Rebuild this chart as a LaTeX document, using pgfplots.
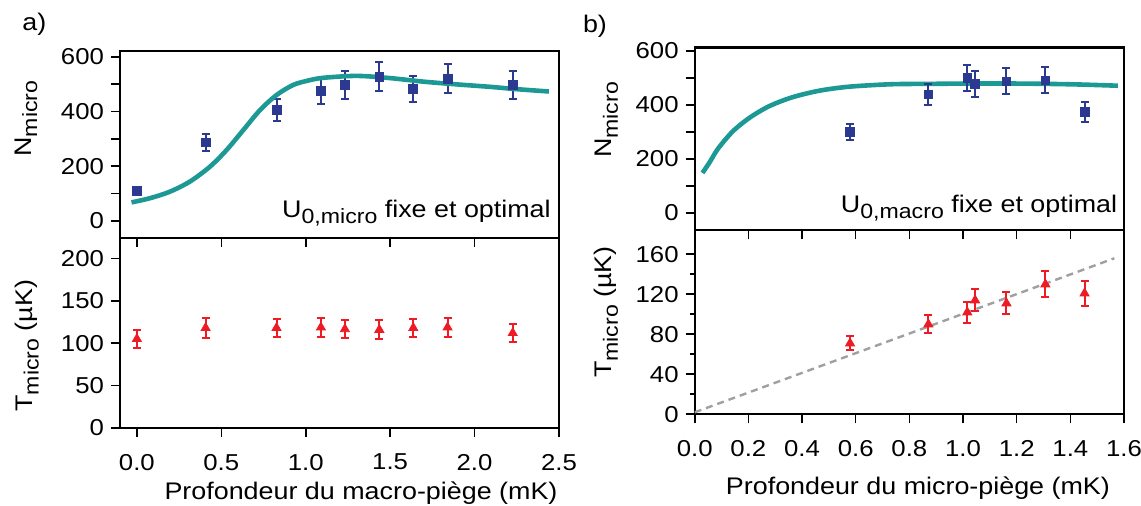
\documentclass[border=0pt]{standalone}
\usepackage{fontspec}
\setmainfont{Liberation Sans}[FakeStretch=1.12]
\usepackage{pgfplots}
\pgfplotsset{compat=1.18}
\definecolor{fitteal}{RGB}{28,153,148}
\definecolor{ptblue}{RGB}{43,57,144}
\definecolor{ptred}{RGB}{237,28,36}
\definecolor{dashgray}{RGB}{160,160,160}
\newcommand{\sbs}[1]{\raisebox{-0.25em}{\scalebox{0.86}{#1}}}
\pgfplotsset{
  panel/.style={
    scale only axis,
    axis line style={line width=1.2pt},
    tick align=outside,
    xtick pos=bottom, ytick pos=left,
    major tick length=4.5pt, minor tick length=4.5pt,
    every tick/.append style={black, line width=0.8pt},
    tick label style={font=\fontsize{11.5}{13}\selectfont},
    label style={font=\fontsize{12}{14}\selectfont},
    /pgf/number format/assume math mode=true,
  },
  bluepts/.style={only marks, mark=square*, mark size=2.2pt, color=ptblue,
    error bars/.cd, y dir=both, y explicit,
    error bar style={line width=1pt, solid},
    error mark options={rotate=90, mark size=2pt, line width=1pt}},
  redpts/.style={only marks, mark=triangle*, mark size=2.6pt, color=ptred,
    error bars/.cd, y dir=both, y explicit,
    error bar style={line width=1pt, solid},
    error mark options={rotate=90, mark size=2pt, line width=1pt}},
}
\begin{document}
\begin{tikzpicture}
\useasboundingbox (0,0) rectangle (570.5pt,253pt);
\node[anchor=north west, inner sep=0, font=\fontsize{12}{14}\selectfont] at (11pt,246.5pt) {a)};
\node[anchor=north west, inner sep=0, font=\fontsize{12}{14}\selectfont] at (291.3pt,245.5pt) {b)};
% ---- left top
\begin{axis}[panel, at={(60pt,134pt)}, anchor=south west,
  width=219.5pt, height=93.5pt,
  xmin=-0.1, xmax=2.5, ymin=-62, ymax=621,
  xtick={0,0.5,1,1.5,2,2.5}, xticklabels={},
  ytick={0,200,400,600}, minor ytick={100,300,500},
  ylabel={N\sbs{micro}},
  ylabel style={at={(axis description cs:-0.214,0.639)}, anchor=center}]
\addplot[bluepts] table[x=x, y=y, y error=e] {
x y e
0.000 110 12
0.407 287 30
0.827 405 40
1.090 476 47
1.232 497 50
1.436 527 53
1.637 483 48
1.840 520 52
2.226 497 50
};
\addplot[color=fitteal, line width=2.3pt, smooth, no marks] coordinates {
(-0.032,68) (0.076,83) (0.195,107) (0.314,144) (0.432,198) (0.531,259)
(0.630,332) (0.729,405) (0.827,460) (0.926,497) (1.015,513) (1.104,523)
(1.302,530) (1.499,522) (1.697,509) (1.894,499) (2.092,490) (2.240,482) (2.440,473)};
\node[anchor=base east, inner sep=0, font=\fontsize{12}{14}\selectfont]
  at (axis description cs:0.982,0.112) {U\sbs{0,micro} fixe et optimal};
\end{axis}
% ---- left bottom
\begin{axis}[panel, at={(60pt,39pt)}, anchor=south west,
  width=219.5pt, height=95pt,
  xmin=-0.1, xmax=2.5, ymin=0, ymax=224,
  xtick={0,0.5,1,1.5,2,2.5},
  xticklabel style={yshift=-5pt, /pgf/number format/.cd, fixed, fixed zerofill, precision=1},
  ytick={0,50,100,150,200},
  xlabel={Profondeur du macro-piège (mK)},
  xlabel style={at={(axis description cs:0.549,-0.342)}, anchor=center},
  ylabel={T\sbs{micro} (µK)},
  ylabel style={at={(axis description cs:-0.212,0.433)}, anchor=center}]
\addplot[redpts] table[x=x, y=y, y error=e] {
x y e
0.000 105 11
0.407 118 12
0.827 118 11
1.090 118.6 11
1.232 116.6 11
1.436 115.8 11
1.637 118 11
1.840 118.6 11
2.226 112 11
};
\end{axis}
% ---- right top
\begin{axis}[panel, at={(347.35pt,137.85pt)}, anchor=south west,
  width=214.65pt, height=91.3pt,
  xmin=0, xmax=1.6, ymin=-64.5, ymax=612,
  xtick={0,0.2,0.4,0.6,0.8,1,1.2,1.4,1.6}, xticklabels={},
  ytick={0,200,400,600}, minor ytick={100,300,500},
  ylabel={N\sbs{micro}},
  ylabel style={at={(axis description cs:-0.205,0.604)}, anchor=center}]
\addplot[color=fitteal, line width=2.3pt, smooth, no marks] coordinates {
(0.029,148) (0.056,188) (0.087,238) (0.142,302) (0.204,352) (0.277,395)
(0.363,428) (0.461,452) (0.560,466) (0.658,473) (0.750,477) (0.880,478)
(1.015,479) (1.216,479) (1.417,476) (1.577,471)};
\addplot[bluepts] table[x=x, y=y, y error=e] {
x y e
0.579 299 30
0.871 439 40
1.016 500 48
1.045 479 48
1.162 487 48
1.307 491 48
1.453 374 38
};
\node[anchor=base east, inner sep=0, font=\fontsize{12}{14}\selectfont]
  at (axis description cs:0.985,0.099) {U\sbs{0,macro} fixe et optimal};
\end{axis}
% ---- right bottom
\begin{axis}[panel, at={(347.35pt,45.85pt)}, anchor=south west,
  width=214.65pt, height=92pt,
  xmin=0, xmax=1.6, ymin=0, ymax=184,
  minor tick length=2.5pt,
  xtick={0,0.2,0.4,0.6,0.8,1,1.2,1.4,1.6},
  xticklabel style={yshift=-5pt, /pgf/number format/.cd, fixed, fixed zerofill, precision=1},
  ytick={0,40,80,120,160}, minor ytick={20,60,100,140},
  xlabel={Profondeur du micro-piège (mK)},
  xlabel style={at={(axis description cs:0.52,-0.40)}, anchor=center},
  ylabel={T\sbs{micro} (µK)},
  ylabel style={at={(axis description cs:-0.206,0.556)}, anchor=center}]
\addplot[color=dashgray, line width=1.2pt, dash pattern=on 3.5pt off 2.5pt, no marks]
  coordinates {(0,2) (1.564,156)};
\addplot[redpts] table[x=x, y=y, y error=e] {
x y e
0.579 71 7
0.871 90 9
1.016 102 10.5
1.045 114 11
1.162 111 11
1.307 130 13
1.453 121 12.5
};
\end{axis}
\end{tikzpicture}
\end{document}
